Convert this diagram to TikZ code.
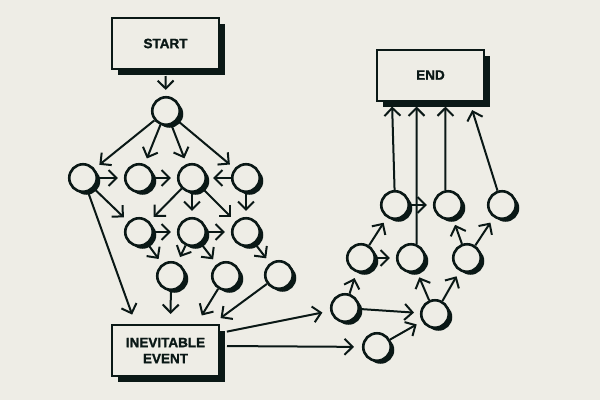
\documentclass[tikz,border=0pt]{standalone}
\usepackage{fontspec}
\setmainfont{Liberation Sans}[BoldFeatures={FakeBold=1.6}]
\usetikzlibrary{arrows.meta,shadows}
\definecolor{ink}{RGB}{10,24,22}
\definecolor{paper}{RGB}{238,237,230}
\tikzset{
  every picture/.style={color=ink, line width=2pt, x=1pt, y=-1pt},
  box/.style={draw=ink, line width=2pt, fill=paper, minimum width=107pt, minimum height=51pt, inner sep=0pt, align=center,
    font=\bfseries\fontsize{13.5}{16}\selectfont,
    drop shadow={shadow xshift=6pt, shadow yshift=-6pt, fill=ink, opacity=1}},
  dot/.style={circle, draw=ink, line width=2.6pt, fill=paper, minimum size=27.5pt, inner sep=0pt,
    drop shadow={shadow xshift=3.5pt, shadow yshift=-3pt, fill=ink, opacity=1}},
  flow/.style={-{Straight Barb[length=8pt,width=16pt]}, line width=2pt, shorten >=6pt},
  into/.style={flow, shorten >=10pt},
  up/.style={flow, shorten >=5pt},
}

\begin{document}
\begin{tikzpicture}
  \fill[paper] (0,0) rectangle (600,400);
  \useasboundingbox (0,0) rectangle (600,400);
  % left cluster
  \node[box] (start) at (165.5,43.5) {START};
  \node[dot] (a) at (166,111) {};
  \node[dot] (b1) at (83,178) {};
  \node[dot] (b2) at (139,178) {};
  \node[dot] (b3) at (192,178) {};
  \node[dot] (b4) at (246,178) {};
  \node[dot] (c1) at (139,232) {};
  \node[dot] (c2) at (192,232) {};
  \node[dot] (c3) at (246,232) {};
  \node[dot] (d1) at (171,276) {};
  \node[dot] (d2) at (226,276) {};
  \node[dot] (d3) at (279,275) {};
  \node[box] (ev) at (165.5,350.5) {INEVITABLE\\EVENT};
  % right cluster
  \node[dot] (e1) at (345,308) {};
  \node[dot] (e2) at (377,347) {};
  \node[dot] (f1) at (435,314) {};
  \node[dot] (g1) at (361,258) {};
  \node[dot] (g2) at (411,258) {};
  \node[dot] (g3) at (467,258) {};
  \node[dot] (h1) at (395,205) {};
  \node[dot] (h2) at (448,205) {};
  \node[dot] (h3) at (502,205) {};
  \node[box] (fin) at (430.5,75) {END};

  \draw[flow, shorten <=6pt] (start.south) -- (a);
  \foreach \t in {b1,b2,b3,b4} \draw[flow] (a) -- (\t);
  \draw[flow] (b1) -- (b2);
  \draw[flow] (b2) -- (b3);
  \draw[flow] (b4) -- (b3);
  \draw[flow] (b1) -- (c1);
  \draw[flow] (b3) -- (c1);
  \draw[flow] (b3) -- (c2);
  \draw[flow] (b3) -- (c3);
  \draw[flow] (b4) -- (c3);
  \draw[flow] (c1) -- (c2);
  \draw[flow] (c2) -- (c3);
  \draw[flow] (c1) -- (d1);
  \draw[flow] (c2) -- (d1);
  \draw[flow] (c2) -- (d2);
  \draw[flow] (c3) -- (d3);
  \draw[into] (b1) -- ([xshift=-30pt]ev.north);
  \draw[into] (d1) -- ([xshift=5pt]ev.north);
  \draw[into] (d2) -- ([xshift=31pt]ev.north);
  \draw[into] (d3) -- ([xshift=47pt]ev.north);

  \draw[flow, shorten <=7pt, shorten >=8pt] ([yshift=17.5pt]ev.east) -- (e1);
  \draw[flow, shorten <=7pt, shorten >=8pt] ([yshift=4.5pt]ev.east) -- (e2);
  \draw[flow] (e1) -- (g1);
  \draw[flow] (e1) -- (f1);
  \draw[flow] (e2) -- (f1);
  \draw[flow] (f1) -- (g2);
  \draw[flow] (f1) -- (g3);
  \draw[flow] (g1) -- (h1);
  \draw[flow] (g1) -- (g2);
  \draw[flow] (g3) -- (h2);
  \draw[flow] (g3) -- (h3);
  \draw[flow] (h1) -- (h2);
  \draw[up] (h1) -- ([xshift=-38.5pt]fin.south);
  \draw[up] (g2.68) -- ([xshift=-14pt]fin.south);
  \draw[up] (h2.100) -- ([xshift=15pt]fin.south);
  \draw[up, shorten >=9pt] (h3) -- ([xshift=39pt]fin.south);
\end{tikzpicture}
\end{document}
